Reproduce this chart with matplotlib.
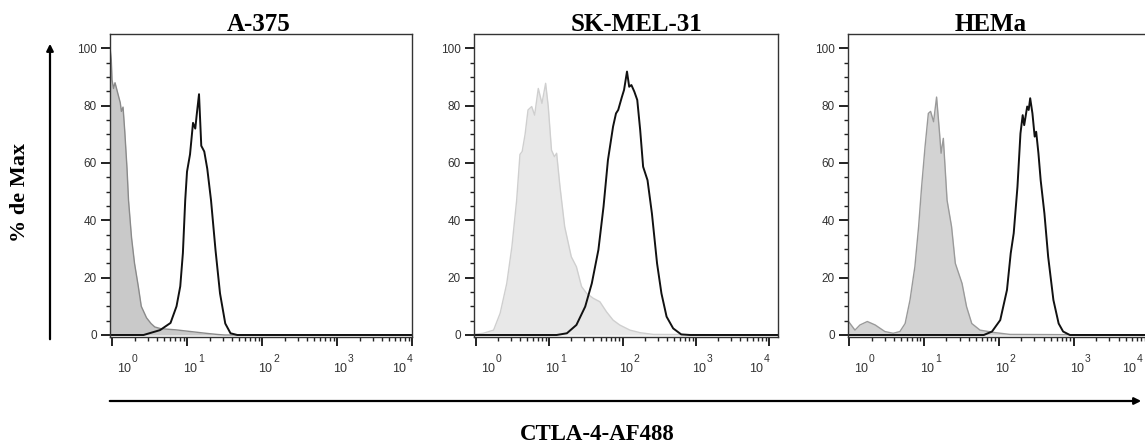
import matplotlib
matplotlib.use('Agg')
import matplotlib.pyplot as plt
import matplotlib.transforms as mtransforms
from matplotlib.patches import FancyArrowPatch
from matplotlib.ticker import FixedLocator, NullFormatter
import numpy as np

plt.rcParams['font.family'] = ['Liberation Sans', 'DejaVu Sans']

# cell lines (panel titles)
cell_lines = ['A-375', 'SK-MEL-31', 'HEMa']

# x positions are log10 of the fluorescence intensity, y is % of max
a375_iso_log = [-0.03, -0.01, 0.0, 0.02, 0.04, 0.08, 0.11, 0.125, 0.147, 0.17, 0.2, 0.22,
                0.26, 0.3, 0.35, 0.39, 0.46, 0.52, 0.57, 0.65, 0.75, 0.85, 0.95, 1.05,
                1.15, 1.25, 1.4, 1.5, 4.0]
a375_iso_pct = [101, 96, 89, 86, 88, 84, 81, 78, 79.5, 71, 58, 47,
                34, 25, 17, 10, 6, 4, 2.8, 2.2, 2.0, 1.8, 1.5, 1.2,
                0.9, 0.6, 0.2, 0, 0]
a375_ctla_log = [-0.03, 0.42, 0.64, 0.78, 0.86, 0.91, 0.945, 0.976, 1.0, 1.04, 1.08, 1.11,
                 1.13, 1.16, 1.19, 1.23, 1.27, 1.32, 1.38, 1.44, 1.51, 1.58, 1.67, 4.0]
a375_ctla_pct = [0, 0, 1.7, 4.2, 10, 17, 28.6, 47, 57, 63, 74, 72,
                 77, 84, 66, 64, 58, 47, 29.6, 14.5, 4, 0.6, 0, 0]

skmel_iso_log = [-0.03, 0.1, 0.24, 0.33, 0.42, 0.49, 0.555, 0.6, 0.63, 0.67, 0.71, 0.76,
                 0.8, 0.85, 0.9, 0.95, 0.986, 1.03, 1.07, 1.1, 1.146, 1.21, 1.3, 1.37,
                 1.44, 1.51, 1.6, 1.69, 1.78, 1.87, 1.96, 2.1, 2.24, 2.42, 4.12]
skmel_iso_pct = [0.2, 0.6, 1.7, 7.6, 18, 30.8, 47, 63, 64, 70, 78.5, 79.7,
                 76.7, 86, 80.8, 87.8, 79.7, 64.5, 62.2, 63.4, 51.7, 37.8, 27.3, 23.8,
                 16.9, 14.5, 12.8, 11.6, 8.1, 5.2, 3.5, 1.7, 0.8, 0.2, 0]
skmel_ctla_log = [-0.03, 1.1, 1.24, 1.37, 1.49, 1.58, 1.67, 1.74, 1.8, 1.87, 1.91, 1.94,
                  1.99, 2.02, 2.06, 2.09, 2.12, 2.16, 2.2, 2.24, 2.28, 2.34, 2.4, 2.47,
                  2.53, 2.6, 2.69, 2.8, 2.92, 4.12]
skmel_ctla_pct = [0, 0, 0.6, 3.5, 9.9, 18, 29.7, 44.8, 61, 72.7, 77.3, 78.5,
                  83, 85.5, 91.9, 86.6, 87.2, 84.9, 82, 71.5, 58.7, 54, 42.4, 25,
                  14.5, 6.4, 2.3, 0.2, 0, 0]

hema_iso_log = [-0.02, 0.08, 0.147, 0.245, 0.35, 0.48, 0.59, 0.68, 0.75, 0.815, 0.88, 0.93,
                0.97, 1.016, 1.06, 1.09, 1.13, 1.17, 1.21, 1.23, 1.26, 1.31, 1.37, 1.42,
                1.51, 1.57, 1.64, 1.75, 1.93, 2.15, 4.02]
hema_iso_pct = [5.2, 1.7, 3.5, 4.7, 3.5, 1.2, 0.6, 1.2, 4, 12.2, 23.8, 37.8,
                51.7, 65.7, 77.3, 78, 74.4, 83, 70.3, 63.4, 68.6, 47, 37.8, 25,
                18, 9.9, 4, 1.7, 0.9, 0.2, 0]
hema_ctla_log = [-0.02, 1.8, 1.91, 2.02, 2.11, 2.16, 2.2, 2.25, 2.29, 2.32, 2.34, 2.38,
                 2.4, 2.42, 2.45, 2.48, 2.5, 2.53, 2.56, 2.61, 2.66, 2.73, 2.8, 2.86,
                 2.95, 4.02]
hema_ctla_pct = [0, 0, 1.2, 5.2, 15.7, 28.5, 35.5, 51.7, 70.3, 76.7, 73.2, 79.7,
                 78.5, 82.6, 77.3, 69.2, 70.9, 63.4, 54, 42.4, 27.3, 12.2, 4, 1.2,
                 0, 0]

iso_logs = [a375_iso_log, skmel_iso_log, hema_iso_log]
iso_pcts = [a375_iso_pct, skmel_iso_pct, hema_iso_pct]
ctla_logs = [a375_ctla_log, skmel_ctla_log, hema_ctla_log]
ctla_pcts = [a375_ctla_pct, skmel_ctla_pct, hema_ctla_pct]

y_ticks = [0, 20, 40, 60, 80, 100]
decades = [0, 1, 2, 3, 4]

W, H = 1145, 443
# panel boxes in pixels: left, right, top, bottom
boxes = [(110, 412, 34, 337), (474, 778, 34, 337), (848, 1150, 34, 337)]
xlims = [(-0.027, 4.0), (-0.027, 4.12), (-0.013, 4.02)]
fills = ['#c9c9c9', '#e8e8e8', '#d3d3d3']
edges = ['#8a8a8a', '#cfcfcf', '#9a9a9a']
title_x = [259, 637, 991]
label_color = '#333333'

fig = plt.figure(figsize=(W / 100, H / 100), dpi=100)


def px(dx, dy):
    return mtransforms.ScaledTranslation(dx / 100, dy / 100, fig.dpi_scale_trans)


def decade_label(ax, trans, x, y, d, dx):
    # "10" plus a raised exponent, offset dx pixels from the anchor
    ax.text(x, y, '10', transform=trans + px(dx, -35), ha='left', va='baseline',
            fontsize=9, color=label_color, clip_on=False)
    ax.text(x, y, str(d), transform=trans + px(dx + 15, -25), ha='left', va='baseline',
            fontsize=7.5, color=label_color, clip_on=False)


for i in range(3):
    l, r, t, b = boxes[i]
    ax = fig.add_axes([l / W, (H - b) / H, (r - l) / W, (b - t) / H])
    x_iso = 10 ** np.array(iso_logs[i])
    x_ctla = 10 ** np.array(ctla_logs[i])
    ax.fill_between(x_iso, iso_pcts[i], 0, color=fills[i], lw=0)
    ax.plot(x_iso, iso_pcts[i], color=edges[i], lw=1.0)
    ax.plot(x_ctla, ctla_pcts[i], color='#111111', lw=1.4)

    ax.set_xscale('log')
    ax.set_xlim(10 ** xlims[i][0], 10 ** xlims[i][1])
    ax.set_ylim(-0.7, 105)

    ax.yaxis.set_major_locator(FixedLocator(y_ticks))
    ax.yaxis.set_minor_locator(FixedLocator(np.arange(0, 101, 5)))
    ax.set_yticklabels([str(v) for v in y_ticks])
    ax.xaxis.set_major_locator(FixedLocator([10.0 ** d for d in decades]))
    minors = [m * 10.0 ** d for d in decades[:-1] for m in range(2, 10)]
    ax.xaxis.set_minor_locator(FixedLocator(minors))
    ax.xaxis.set_major_formatter(NullFormatter())
    ax.xaxis.set_minor_formatter(NullFormatter())

    ax.tick_params(which='major', direction='out', length=6.5, width=1.4,
                   color='#222222', labelsize=8.5, labelcolor=label_color, pad=3)
    ax.tick_params(which='minor', direction='out', length=3, width=1.0, color='#222222')
    for s in ax.spines.values():
        s.set_linewidth(1.0)
        s.set_color('#333333')

    # FlowJo style decade labels, pulled inward at the ends
    trans = ax.get_xaxis_transform()
    for d in decades:
        if d == decades[0]:
            decade_label(ax, trans, 10.0 ** d, 0, d, 5)
        elif d == decades[-1] and i == 2:
            # last panel runs off the figure; keep its label at the edge
            decade_label(ax, fig.transFigure, 1122 / W, (H - b) / H, d, 0)
        elif d == decades[-1]:
            decade_label(ax, trans, 10.0 ** d, 0, d, -20)
        else:
            decade_label(ax, trans, 10.0 ** d, 0, d, -4)

    fig.text(title_x[i] / W, (H - 31) / H, cell_lines[i], ha='center', va='baseline',
             fontsize=18, fontweight='bold', family='Liberation Serif')

fig.text(20 / W, 1 - 193 / H, '% de Max', rotation=90, ha='center', va='center',
         fontsize=16, fontweight='bold', family='Liberation Serif')
fig.text(597 / W, (H - 440) / H, 'CTLA-4-AF488', ha='center', va='baseline',
         fontsize=16.5, fontweight='bold', family='Liberation Serif')

fig.add_artist(FancyArrowPatch((50 / W, 1 - 342 / H), (50 / W, 1 - 41 / H),
                               transform=fig.transFigure, arrowstyle='-|>',
                               mutation_scale=10, lw=1.6, color='black'))
fig.add_artist(FancyArrowPatch((107 / W, 1 - 401 / H), (1144 / W, 1 - 401 / H),
                               transform=fig.transFigure, arrowstyle='-|>',
                               mutation_scale=10, lw=1.6, color='black'))

fig.savefig('out.png', dpi=100)
